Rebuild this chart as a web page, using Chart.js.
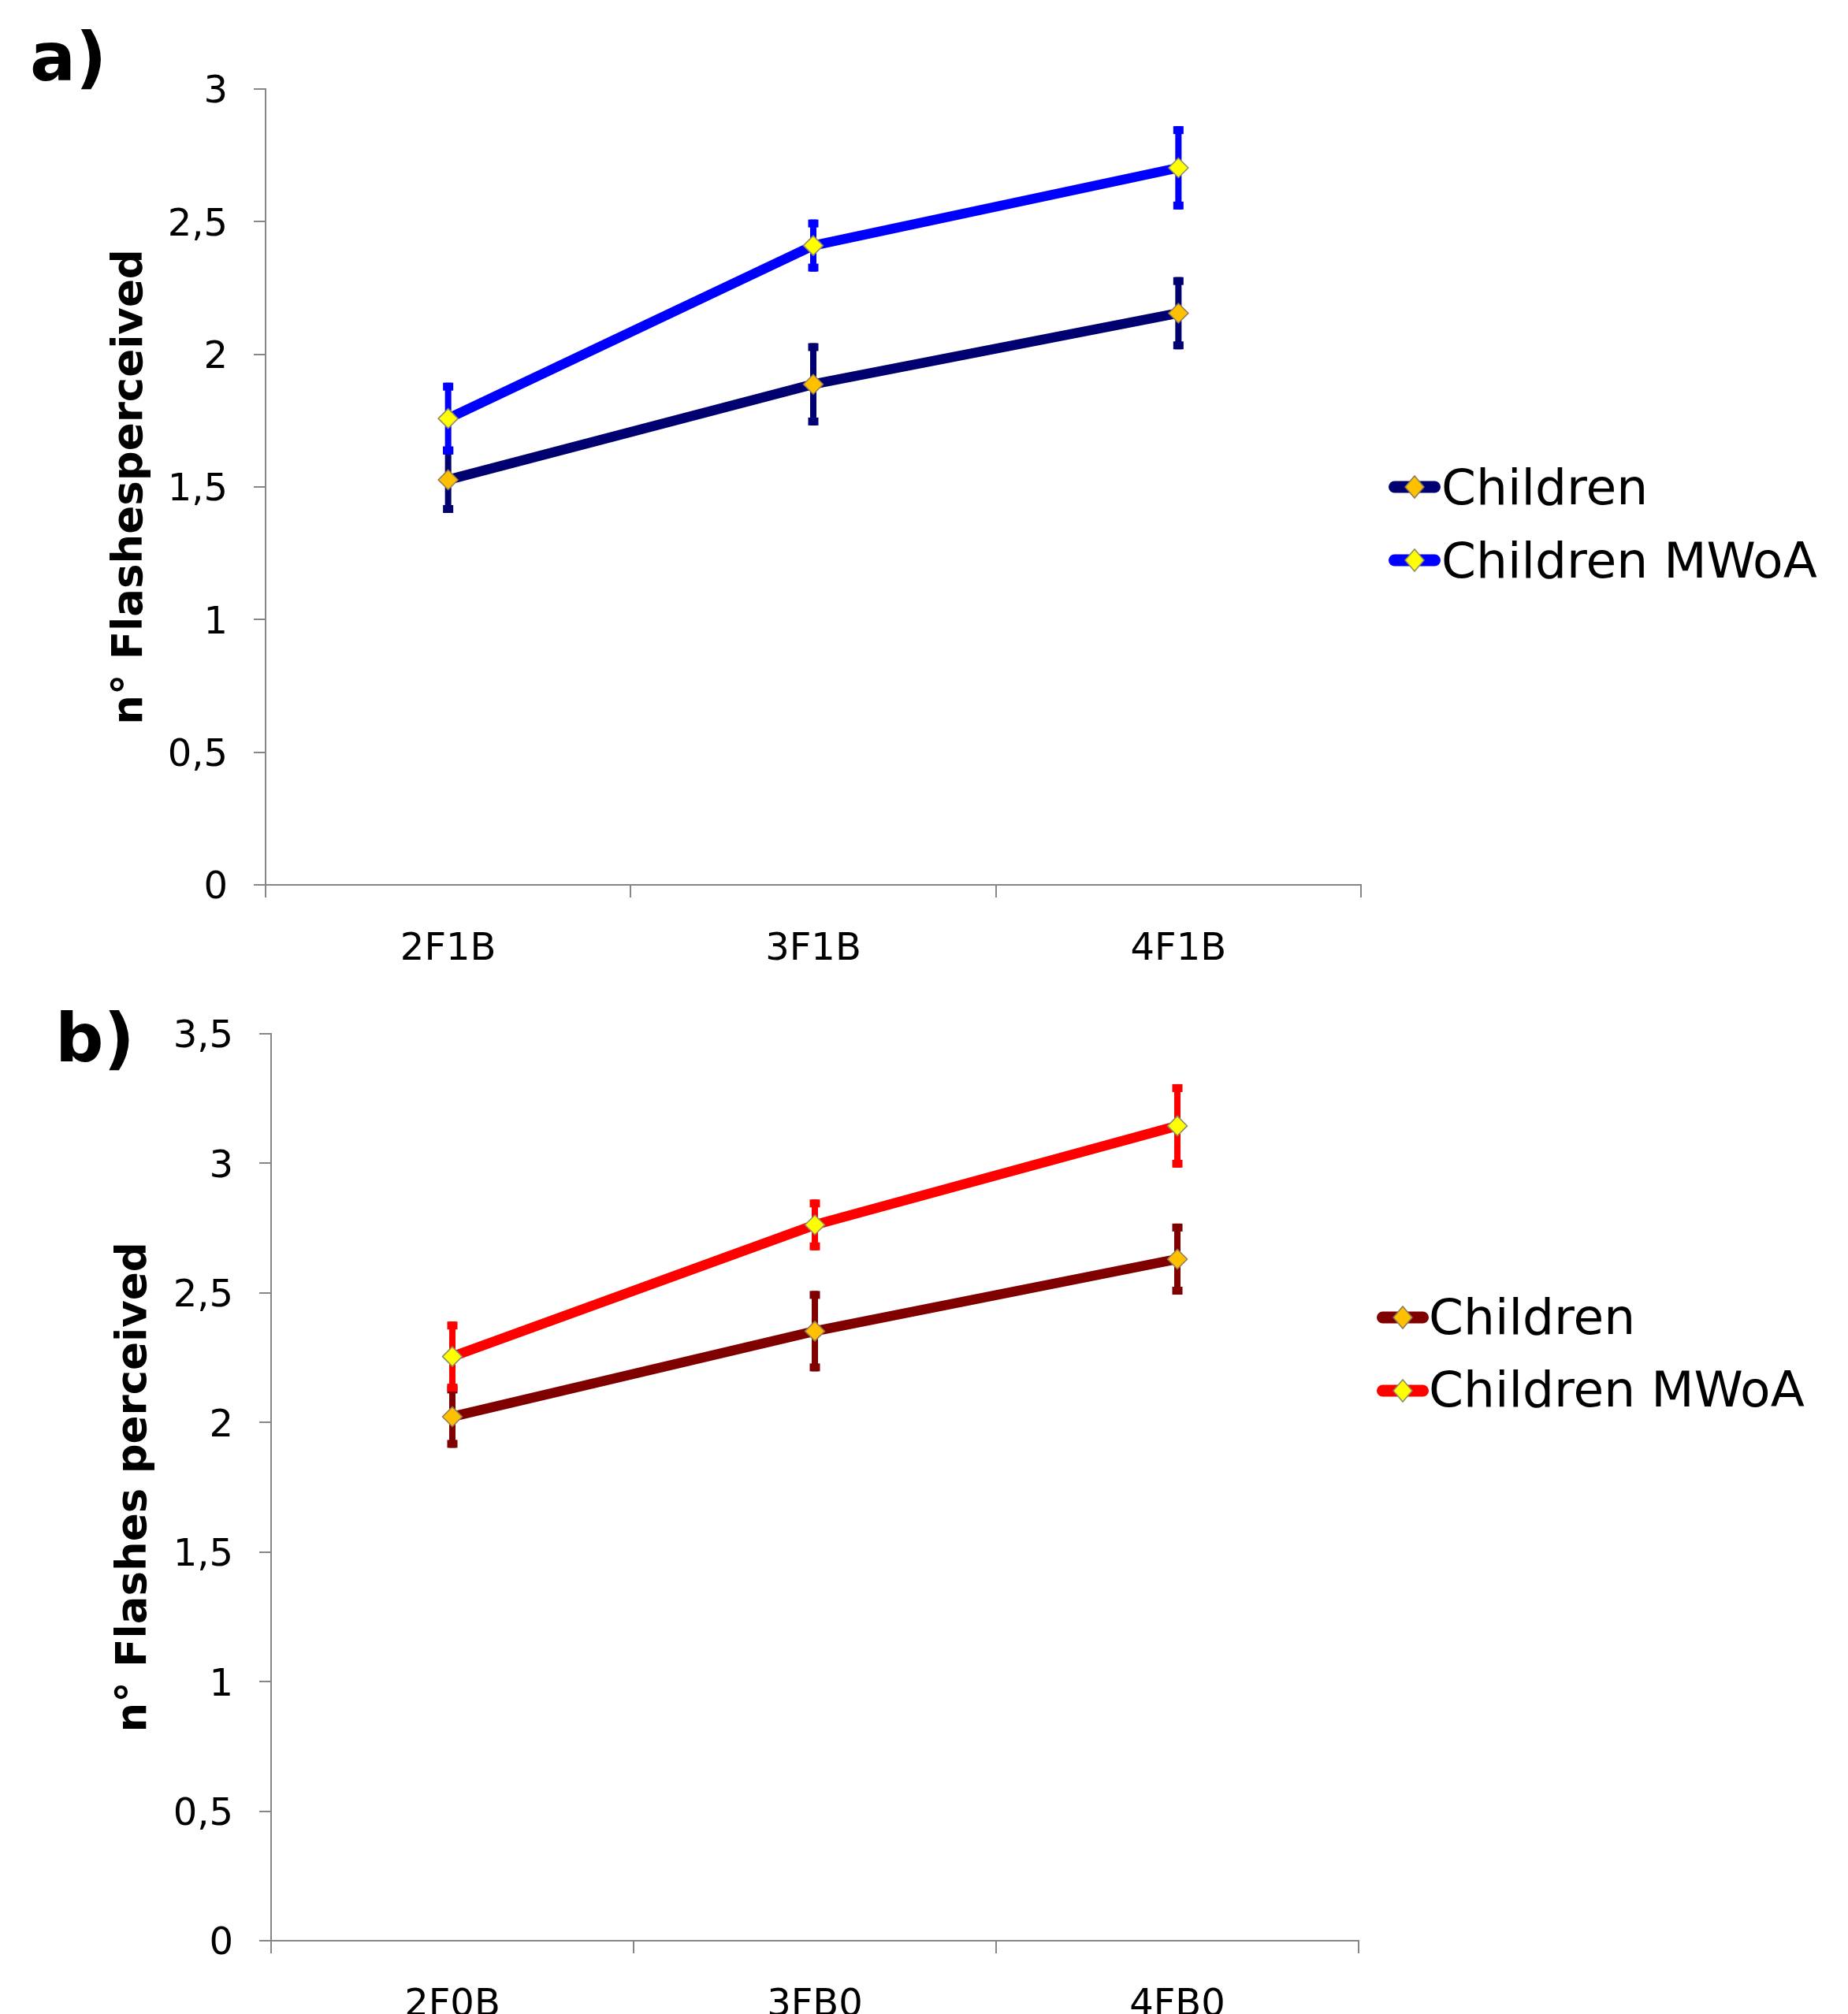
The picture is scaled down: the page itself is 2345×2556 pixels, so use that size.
<!DOCTYPE html>
<html>
<head>
<meta charset="utf-8">
<script src="https://cdn.jsdelivr.net/npm/chart.js@4.4.1/dist/chart.umd.min.js"></script>
<style>
  html, body { margin: 0; padding: 0; background: #ffffff; }
  #wrap { position: relative; width: 2345px; height: 2556px; overflow: hidden; background: #fff; }
  canvas { position: absolute; left: 0; }
</style>
</head>
<body>
<div id="wrap">
  <canvas id="chartA" width="2345" height="1250" style="top:0px"></canvas>
  <canvas id="chartB" width="2345" height="1306" style="top:1250px"></canvas>
</div>
<script>
// ---------------- data ----------------
const seriesNames = ['Children', 'Children MWoA'];

const categoriesA = ['2F1B', '3F1B', '4F1B'];
const childrenA = [1.527, 1.887, 2.155];
const childrenErrA = [0.125, 0.155, 0.136];
const mwoaA = [1.758, 2.410, 2.703];
const mwoaErrA = [0.135, 0.098, 0.157];
const yTicksA = [0, 0.5, 1, 1.5, 2, 2.5, 3];

const categoriesB = ['2F0B', '3FB0', '4FB0'];
const childrenB = [2.022, 2.352, 2.630];
const childrenErrB = [0.120, 0.155, 0.137];
const mwoaB = [2.254, 2.762, 3.144];
const mwoaErrB = [0.135, 0.098, 0.161];
const yTicksB = [0, 0.5, 1, 1.5, 2, 2.5, 3, 3.5];

// ---------------- styles ----------------
const FONT = 'DejaVu Sans';
const AXIS_GRAY = '#868686';

function fmt(v) { return String(v).replace('.', ','); }

// error bars plugin: draws error bars for each dataset before its line
const errorBarPlugin = {
  id: 'errorBars',
  beforeDatasetDraw(chart, args) {
    const ds = chart.data.datasets[args.index];
    if (!ds.errors) return;
    const meta = chart.getDatasetMeta(args.index);
    const y = chart.scales.y;
    const ctx = chart.ctx;
    ctx.save();
    ctx.fillStyle = ds.borderColor;
    meta.data.forEach((pt, i) => {
      const v = ds.data[i], e = ds.errors[i];
      const yTop = y.getPixelForValue(v + e);
      const yBot = y.getPixelForValue(v - e);
      const x = pt.x;
      // stem
      ctx.fillRect(x - 4, yTop, 8, yBot - yTop);
      // caps
      ctx.fillRect(x - 6.5, yTop, 13, 10);
      ctx.fillRect(x - 6.5, yBot - 10, 13, 10);
    });
    ctx.restore();
  }
};

// custom legend + panel letter plugin
const decorPlugin = {
  id: 'decor',
  afterDraw(chart, args, opts) {
    const ctx = chart.ctx;
    ctx.save();
    // panel letter
    ctx.fillStyle = '#000';
    ctx.font = 'bold 86px "' + FONT + '"';
    ctx.textBaseline = 'alphabetic';
    ctx.textAlign = 'left';
    ctx.fillText(opts.letter, opts.letterX, opts.letterY);
    // legend
    opts.legendRows.forEach((row, k) => {
      const ds = chart.data.datasets.find(d => d.label === seriesNames[k]);
      ctx.strokeStyle = ds.borderColor;
      ctx.lineWidth = 15;
      ctx.lineCap = 'round';
      ctx.beginPath();
      ctx.moveTo(opts.symX1 + 7.5, row.symY);
      ctx.lineTo(opts.symX2 - 7.5, row.symY);
      ctx.stroke();
      const cx = (opts.symX1 + opts.symX2) / 2;
      const r = 13;
      ctx.beginPath();
      ctx.moveTo(cx - r * 0.92, row.symY);
      ctx.lineTo(cx, row.symY - r * 1.08);
      ctx.lineTo(cx + r * 0.92, row.symY);
      ctx.lineTo(cx, row.symY + r * 1.08);
      ctx.closePath();
      ctx.fillStyle = ds.pointBackgroundColor;
      ctx.fill();
      ctx.lineWidth = 1.5;
      ctx.strokeStyle = ds.pointBorderColor;
      ctx.stroke();
      ctx.fillStyle = '#000';
      ctx.font = '63px "' + FONT + '"';
      ctx.textBaseline = 'alphabetic';
      ctx.fillText(ds.label, opts.textX, row.baseY);
    });
    ctx.restore();
  }
};

function makeChart(canvasId, cfg) {
  const datasets = [
    {
      label: seriesNames[0], data: cfg.children, errors: cfg.childrenErr,
      borderColor: cfg.colChildren, backgroundColor: cfg.colChildren,
      borderWidth: 12.5, tension: 0, order: 2,
      pointStyle: 'rectRot', pointRadius: 12.5,
      pointBackgroundColor: '#FFC000', pointBorderColor: '#8c7a5a', pointBorderWidth: 1.5
    },
    {
      label: seriesNames[1], data: cfg.mwoa, errors: cfg.mwoaErr,
      borderColor: cfg.colMwoa, backgroundColor: cfg.colMwoa,
      borderWidth: 12.5, tension: 0, order: 1,
      pointStyle: 'rectRot', pointRadius: 12.5,
      pointBackgroundColor: '#FFFF00', pointBorderColor: '#8c8c6a', pointBorderWidth: 1.5
    }
  ];
  return new Chart(document.getElementById(canvasId), {
    type: 'line',
    data: { labels: cfg.categories, datasets },
    options: {
      responsive: false,
      animation: false,
      events: [],
      layout: { padding: cfg.padding },
      plugins: {
        legend: { display: false },
        tooltip: { enabled: false },
        decor: cfg.decor
      },
      scales: {
        x: {
          type: 'category',
          offset: true,
          grid: { offset: true, drawOnChartArea: false, drawTicks: true, tickLength: 16, color: AXIS_GRAY, lineWidth: 2 },
          border: { display: true, color: AXIS_GRAY, width: 2 },
          ticks: { color: '#000', font: { family: FONT, size: 48 }, padding: 38, maxRotation: 0 },
          afterFit: (s) => { s.height = cfg.xHeight; }
        },
        y: {
          min: cfg.yTicks[0], max: cfg.yTicks[cfg.yTicks.length - 1],
          afterBuildTicks: (s) => { s.ticks = cfg.yTicks.map(v => ({ value: v })); },
          grid: { drawOnChartArea: false, drawTicks: true, tickLength: 15, color: AXIS_GRAY, lineWidth: 2 },
          border: { display: true, color: AXIS_GRAY, width: 2 },
          ticks: { color: '#000', font: { family: FONT, size: 48 }, padding: 33, labelOffset: 5, callback: (v) => fmt(v) },
          title: { display: true, text: cfg.yTitle, color: '#000', padding: 0,
                   font: { family: FONT, size: 53, weight: 'bold', lineHeight: 1.2 } },
          afterFit: (s) => { s.width = cfg.yWidth; }
        }
      }
    },
    plugins: [errorBarPlugin, decorPlugin]
  });
}

makeChart('chartA', {
  categories: categoriesA, children: childrenA, childrenErr: childrenErrA,
  mwoa: mwoaA, mwoaErr: mwoaErrA, yTicks: yTicksA,
  colChildren: '#000070', colMwoa: '#0000FF',
  yTitle: 'n° Flashesperceived',
  padding: { left: 134, right: 618, top: 113, bottom: 0 },
  yWidth: 203, xHeight: 127,
  decor: {
    letter: 'a)', letterX: 38, letterY: 102,
    symX1: 1762, symX2: 1828, textX: 1829,
    legendRows: [ { symY: 618, baseY: 640 }, { symY: 711, baseY: 733 } ]
  }
});

makeChart('chartB', {
  categories: categoriesB, children: childrenB, childrenErr: childrenErrB,
  mwoa: mwoaB, mwoaErr: mwoaErrB, yTicks: yTicksB,
  colChildren: '#800000', colMwoa: '#FF0000',
  yTitle: 'n° Flashes perceived',
  padding: { left: 139, right: 621, top: 59, bottom: 0 },
  yWidth: 205, xHeight: 93,
  decor: {
    letter: 'b)', letterX: 70, letterY: 97,
    symX1: 1747, symX2: 1813, textX: 1813,
    legendRows: [ { symY: 422, baseY: 443 }, { symY: 515, baseY: 535 } ]
  }
});
</script>
</body>
</html>
